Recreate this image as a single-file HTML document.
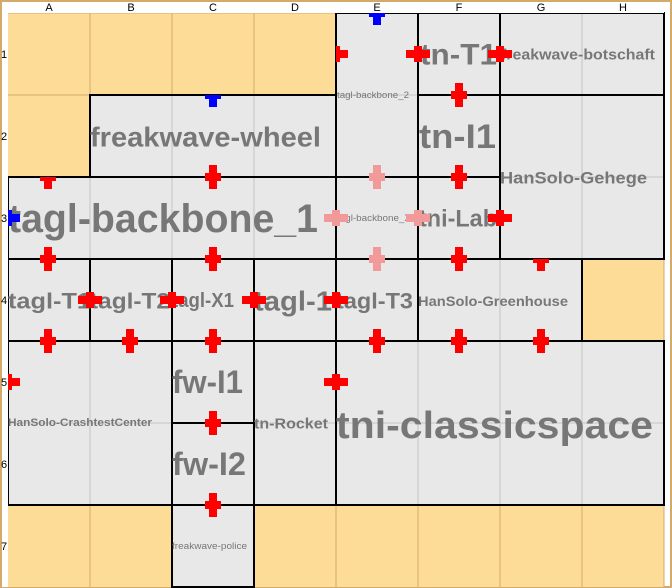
<!DOCTYPE html>
<html><head><meta charset="utf-8"><style>
html,body{margin:0;padding:0;background:#fff}
svg{display:block}
text{font-family:"Liberation Sans",Arial,sans-serif}
.l{font-weight:bold;fill:#777;text-anchor:start;dominant-baseline:central}
.h{font-size:11px;fill:#000;text-anchor:middle}
</style></head><body>
<svg width="672" height="588" viewBox="0 0 672 588" xmlns="http://www.w3.org/2000/svg">
<rect x="0" y="0" width="672" height="588" fill="#fff"/>
<rect x="1" y="1" width="670" height="586" fill="none" stroke="#d4aa6a" stroke-width="2"/>
<rect x="8" y="13" width="656" height="574" fill="#fddc98"/>
<g stroke="#d4aa6a" stroke-width="1">
<path d="M90 13V587M172 13V587M254 13V587M336 13V587M418 13V587M500 13V587M582 13V587M664 13V587"/>
<path d="M8 13H664M8 95H664M8 177H664M8 259H664M8 341H664M8 423H664M8 505H664"/>
</g>
<g fill="#e8e8e8">
<rect x="336" y="13" width="82" height="164"/>
<rect x="418" y="13" width="82" height="82"/>
<rect x="500" y="13" width="164" height="82"/>
<rect x="90" y="95" width="246" height="82"/>
<rect x="418" y="95" width="82" height="82"/>
<rect x="500" y="95" width="164" height="164"/>
<rect x="8" y="177" width="328" height="82"/>
<rect x="336" y="177" width="82" height="82"/>
<rect x="418" y="177" width="82" height="82"/>
<rect x="8" y="259" width="410" height="82"/>
<rect x="418" y="259" width="164" height="82"/>
<rect x="8" y="341" width="656" height="164"/>
<rect x="172" y="505" width="82" height="82"/>
</g>
<g stroke="#c4c4c4" stroke-width="1">
<path d="M172 95V177M254 95V177M90 177V259M172 177V259M254 177V259M500 259V341"/>
<path d="M582 13V95M582 95V259M500 177H664M336 95H418"/>
<path d="M90 341V505M8 423H172M254 423H336M336 423H664M418 341V505M500 341V505M582 341V505"/>
</g>
<g fill="none" stroke="#000" stroke-width="2">
<rect x="336" y="13" width="82" height="164"/>
<rect x="418" y="13" width="82" height="82"/>
<rect x="500" y="13" width="164" height="82"/>
<rect x="90" y="95" width="246" height="82"/>
<rect x="418" y="95" width="82" height="82"/>
<rect x="500" y="95" width="164" height="164"/>
<rect x="8" y="177" width="328" height="82"/>
<rect x="336" y="177" width="82" height="82"/>
<rect x="418" y="177" width="82" height="82"/>
<rect x="8" y="259" width="82" height="82"/>
<rect x="90" y="259" width="82" height="82"/>
<rect x="172" y="259" width="82" height="82"/>
<rect x="254" y="259" width="82" height="82"/>
<rect x="336" y="259" width="82" height="82"/>
<rect x="418" y="259" width="164" height="82"/>
<rect x="8" y="341" width="164" height="164"/>
<rect x="172" y="341" width="82" height="82"/>
<rect x="172" y="423" width="82" height="82"/>
<rect x="254" y="341" width="82" height="164"/>
<rect x="336" y="341" width="328" height="164"/>
<rect x="172" y="505" width="82" height="82"/>
</g>
<rect x="8" y="2" width="656" height="11" fill="#fff"/>
<rect x="2" y="13" width="6" height="574" fill="#fff"/>
<g class="h">
<text x="49" y="11">A</text><text x="131" y="11">B</text><text x="213" y="11">C</text><text x="295" y="11">D</text>
<text x="377" y="11">E</text><text x="459" y="11">F</text><text x="541" y="11">G</text><text x="623" y="11">H</text>
<text x="4" y="58">1</text><text x="4" y="140">2</text><text x="4" y="222">3</text><text x="4" y="304">4</text>
<text x="4" y="386">5</text><text x="4" y="468">6</text><text x="4" y="550">7</text>
</g>
<g lengthAdjust="spacingAndGlyphs">
<text class="l" x="337" y="95" textLength="72" lengthAdjust="spacingAndGlyphs" style="font-size:9px;font-weight:normal">tagl-backbone_2</text>
<text class="l" x="420" y="55" textLength="77" lengthAdjust="spacingAndGlyphs" style="font-size:30px">tn-T1</text>
<text class="l" x="501" y="55" textLength="154" lengthAdjust="spacingAndGlyphs" style="font-size:15px">freakwave-botschaft</text>
<text class="l" x="90" y="137" textLength="231" lengthAdjust="spacingAndGlyphs" style="font-size:28px">freakwave-wheel</text>
<text class="l" x="419" y="137" textLength="77" lengthAdjust="spacingAndGlyphs" style="font-size:34px">tn-I1</text>
<text class="l" x="500" y="178" textLength="147" lengthAdjust="spacingAndGlyphs" style="font-size:17px">HanSolo-Gehege</text>
<text class="l" x="8" y="219" textLength="310" lengthAdjust="spacingAndGlyphs" style="font-size:40px">tagl-backbone_1</text>
<text class="l" x="337" y="218" textLength="74" lengthAdjust="spacingAndGlyphs" style="font-size:9px;font-weight:normal">tagl-backbone_X</text>
<text class="l" x="419" y="219" textLength="78" lengthAdjust="spacingAndGlyphs" style="font-size:24px">tni-Lab</text>
<text class="l" x="8" y="301" textLength="83" lengthAdjust="spacingAndGlyphs" style="font-size:22px">tagl-T1</text>
<text class="l" x="90" y="301" textLength="80" lengthAdjust="spacingAndGlyphs" style="font-size:22px">tagl-T2</text>
<text class="l" x="172" y="301" textLength="62" lengthAdjust="spacingAndGlyphs" style="font-size:20px">tagl-X1</text>
<text class="l" x="254" y="301" textLength="78" lengthAdjust="spacingAndGlyphs" style="font-size:28px">tagl-1</text>
<text class="l" x="336" y="301" textLength="77" lengthAdjust="spacingAndGlyphs" style="font-size:22px">tagl-T3</text>
<text class="l" x="418" y="301" textLength="150" lengthAdjust="spacingAndGlyphs" style="font-size:14px">HanSolo-Greenhouse</text>
<text class="l" x="8" y="423" textLength="144" lengthAdjust="spacingAndGlyphs" style="font-size:11px">HanSolo-CrashtestCenter</text>
<text class="l" x="172" y="382" textLength="71" lengthAdjust="spacingAndGlyphs" style="font-size:32px">fw-I1</text>
<text class="l" x="172" y="464" textLength="74" lengthAdjust="spacingAndGlyphs" style="font-size:32px">fw-I2</text>
<text class="l" x="254" y="424" textLength="74" lengthAdjust="spacingAndGlyphs" style="font-size:15px">tn-Rocket</text>
<text class="l" x="336" y="426" textLength="317" lengthAdjust="spacingAndGlyphs" style="font-size:38px">tni-classicspace</text>
<text class="l" x="172" y="546" textLength="75" lengthAdjust="spacingAndGlyphs" style="font-size:9px;font-weight:normal">freakwave-police</text>
</g>
<defs>
<path id="v" d="M-4 -12H4V-4H8V4H4V12H-4V4H-8V-4H-4Z"/>
<path id="vd" d="M-8 0H8V4H4V12H-4V4H-8Z"/>
<path id="h" d="M-12 -4H-4V-8H4V-4H12V4H4V8H-4V4H-12Z"/>
<path id="hr" d="M0 -8H4V-4H12V4H4V8H0Z"/>
</defs>
<g fill="#f00">
<use href="#vd" x="48" y="177"/><use href="#v" x="213" y="177"/>
<use href="#v" x="459" y="95"/><use href="#v" x="459" y="177"/>
<use href="#v" x="48" y="259"/><use href="#v" x="213" y="259"/><use href="#v" x="459" y="259"/><use href="#vd" x="541" y="259"/>
<use href="#v" x="48" y="341"/><use href="#v" x="130" y="341"/><use href="#v" x="213" y="341"/><use href="#v" x="377" y="341"/><use href="#v" x="459" y="341"/><use href="#v" x="541" y="341"/>
<use href="#v" x="213" y="423"/><use href="#v" x="213" y="505"/>
<use href="#hr" x="336" y="54"/><use href="#h" x="418" y="54"/><use href="#h" x="500" y="54"/>
<use href="#h" x="500" y="218"/>
<use href="#h" x="90" y="300"/><use href="#h" x="172" y="300"/><use href="#h" x="254" y="300"/><use href="#h" x="336" y="300"/>
<use href="#hr" x="8" y="382"/><use href="#h" x="336" y="382"/>
</g>
<g fill="#f29a9a">
<use href="#v" x="377" y="177"/><use href="#v" x="377" y="259"/>
<use href="#h" x="336" y="218"/><use href="#h" x="418" y="218"/>
</g>
<g fill="#00f">
<use href="#vd" x="213" y="95"/><use href="#vd" x="377" y="13"/><use href="#hr" x="8" y="218"/>
</g>
</svg>
</body></html>
